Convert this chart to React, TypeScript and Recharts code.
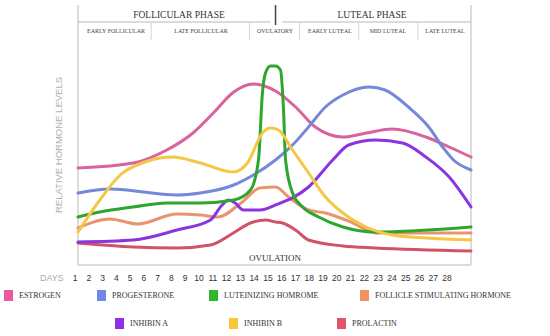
import { LineChart, Line, XAxis, YAxis, ReferenceLine } from "recharts"

type Pt = [number, number]

// [day, relative level]
const estrogen: Pt[] = [
  [1, 97], [4.8, 102], [7.1, 115], [8.9, 132], [10.3, 152], [11.7, 173], [13.05, 181], [14.57, 174],
  [15.95, 158], [17.3, 138], [19.2, 128], [20.8, 132], [22.6, 136], [24.9, 128], [26.5, 118], [28, 108],
]
const progesterone: Pt[] = [
  [1, 72], [3.2, 76], [7.8, 70], [9.4, 72], [11.7, 80], [13.05, 90], [14.57, 105], [15.74, 120],
  [16.84, 138], [18.0, 158], [19.2, 170], [21, 178], [22.1, 175], [23.7, 158], [25.1, 138],
  [26.1, 117], [26.8, 105], [28, 95],
]
const lh: Pt[] = [
  [1, 48], [2.5, 53], [4.8, 58], [7.1, 62], [9.4, 62], [11.7, 65], [12.85, 75], [13.4, 105],
  [13.67, 172], [13.88, 192], [14.22, 199], [14.57, 199], [14.91, 195], [15.12, 155], [15.26, 105],
  [15.74, 72], [16.43, 58], [17.53, 48], [19.2, 38], [21.45, 33], [28, 38],
]
const fsh: Pt[] = [
  [1, 37], [3.2, 46], [5.1, 41], [7.8, 51], [9.4, 50], [10.6, 48], [12.2, 62], [13.5, 77],
  [14.57, 78], [15.46, 68], [16.84, 55], [18.0, 52], [19.9, 42], [21.45, 32], [28, 32],
]
const inhibinA: Pt[] = [
  [1, 23], [4.8, 25], [7.8, 35], [10.1, 45], [10.9, 60], [11.33, 65], [11.8, 62], [12.36, 55],
  [13.5, 55], [14.57, 60], [16.84, 78], [18.5, 105], [19.6, 120], [21.45, 125], [23.3, 122],
  [24.9, 108], [26.5, 88], [28, 58],
]
const inhibinB: Pt[] = [
  [1, 33], [2.5, 65], [3.9, 90], [5.6, 103], [7.5, 108], [9.4, 102], [11.67, 93], [12.64, 102],
  [13.67, 132], [14.22, 137], [14.77, 135], [15.74, 115], [16.84, 92], [18.0, 68], [19.2, 52],
  [20.8, 38], [22.6, 30], [24.9, 27], [28, 25],
]
const prolactin: Pt[] = [
  [1, 22], [4.8, 18], [7.8, 17], [10.1, 20], [11.67, 32], [12.85, 42], [13.88, 45], [14.57, 43],
  [15.05, 42], [15.95, 35], [16.84, 25], [19.2, 19], [21.45, 17], [28, 14],
]

const dayTicks = [1, 2, 3, 4, 5, 6, 7, 8, 9, 10, 11, 12, 13, 14, 15, 16, 17, 18, 19, 20, 21, 22, 23, 24, 25, 26, 27, 28]

const series = [
  { name: "ESTROGEN", data: estrogen, color: "#d9639f" },
  { name: "PROGESTERONE", data: progesterone, color: "#7389d9" },
  { name: "FSH", data: fsh, color: "#e8956e" },
  { name: "PROLACTIN", data: prolactin, color: "#d05468" },
  { name: "INHIBIN A", data: inhibinA, color: "#8a35e0" },
  { name: "LH", data: lh, color: "#2ea52e" },
  { name: "INHIBIN B", data: inhibinB, color: "#f5c744" },
]

const legendRow1 = [
  { label: "ESTROGEN", color: "#e85a9f", x: 4 },
  { label: "PROGESTERONE", color: "#7088e8", x: 97 },
  { label: "LUTEINIZING HOMROME", color: "#2cb82c", x: 209 },
  { label: "FOLLICLE STIMULATING HORMONE", color: "#f29263", x: 360 },
]
const legendRow2 = [
  { label: "INHIBIN A", color: "#9030e8", x: 115 },
  { label: "INHIBIN B", color: "#f8c838", x: 229 },
  { label: "PROLACTIN", color: "#e45468", x: 337 },
]

const subPhases = [
  { label: "EARLY FOLLICULAR", x: 116 },
  { label: "LATE FOLLICULAR", x: 201 },
  { label: "OVULATORY", x: 275 },
  { label: "EARLY LUTEAL", x: 330 },
  { label: "MID LUTEAL", x: 388 },
  { label: "LATE LUTEAL", x: 445 },
]
const subDividers = [6.03, 12.78, 16.22, 20.28, 24.35]

const serif = "'Liberation Serif', serif"
const sans = "'Liberation Sans', Arial, sans-serif"

function DayTick(props: any) {
  const v = props.payload.value
  return (
    <text x={75 + (v - 1) * 13.78} y={281} textAnchor="middle" fontSize={8.5} fontFamily={sans} fill="#333">
      {v}
    </text>
  )
}

function LegendRow({ items, y }: { items: { label: string; color: string; x: number }[]; y: number }) {
  return (
    <>
      {items.map((it) => (
        <div key={it.label} style={{ position: "absolute", left: it.x, top: y, display: "flex", alignItems: "center" }}>
          <div style={{ width: 9, height: 11, background: it.color }} />
          <span style={{ marginLeft: 6, fontFamily: serif, fontSize: 8, color: "#333", whiteSpace: "nowrap" }}>
            {it.label}
          </span>
        </div>
      ))}
    </>
  )
}

export default function App() {
  return (
    <div style={{ position: "absolute", left: 0, top: 0, width: 550, height: 336, background: "#fff" }}>
      <LineChart width={550} height={336} margin={{ top: 5, right: 79, left: 78, bottom: 51 }}>
        <XAxis
          type="number"
          dataKey="day"
          domain={[1, 28]}
          ticks={dayTicks}
          interval={0}
          height={20}
          axisLine={{ stroke: "#dcdcdc", strokeWidth: 2 }}
          tickLine={false}
          tick={DayTick}
          allowDuplicatedCategory={false}
        />
        <YAxis type="number" domain={[0, 260]} hide />
        <ReferenceLine x={1} stroke="#dcdcdc" strokeWidth={2} />
        <ReferenceLine x={28} stroke="#dcdcdc" strokeWidth={2} />
        <ReferenceLine segment={[{ x: 1, y: 243 }, { x: 14.22, y: 243 }]} stroke="#b8b8b8" strokeWidth={1} />
        <ReferenceLine segment={[{ x: 15.05, y: 243 }, { x: 28, y: 243 }]} stroke="#b8b8b8" strokeWidth={1} />
        <ReferenceLine segment={[{ x: 14.57, y: 260 }, { x: 14.57, y: 240 }]} stroke="#444" strokeWidth={1.5} />
        {subDividers.map((d) => (
          <ReferenceLine key={d} segment={[{ x: d, y: 243 }, { x: d, y: 225 }]} stroke="#d6d6d6" strokeWidth={1} />
        ))}
        {series.map((s) => (
          <Line
            key={s.name}
            data={s.data.map(([day, v]) => ({ day, v }))}
            dataKey="v"
            type="monotone"
            stroke={s.color}
            strokeWidth={3}
            strokeLinecap="round"
            dot={false}
            activeDot={false}
            isAnimationActive={false}
          />
        ))}
      </LineChart>
      <svg width={550} height={336} style={{ position: "absolute", left: 0, top: 0, pointerEvents: "none" }}>
        <text x={179} y={17.5} textAnchor="middle" fontFamily={serif} fontSize={9.5} fill="#333">
          FOLLICULAR PHASE
        </text>
        <text x={372} y={17.5} textAnchor="middle" fontFamily={serif} fontSize={9.5} fill="#333">
          LUTEAL PHASE
        </text>
        {subPhases.map((p) => (
          <text key={p.label} x={p.x} y={33} textAnchor="middle" fontFamily={serif} fontSize={6} fill="#444">
            {p.label}
          </text>
        ))}
        <text
          x={58}
          y={145}
          transform="rotate(-90 58 145)"
          textAnchor="middle"
          dominantBaseline="central"
          fontFamily={sans}
          fontSize={9.5}
          fill="#b0b0b0"
        >
          RELATIVE HORMONE LEVELS
        </text>
        <text x={275} y={260.5} textAnchor="middle" fontFamily={serif} fontSize={9} fill="#333">
          OVULATION
        </text>
        <text x={40} y={281} fontFamily={sans} fontSize={9} fill="#aaa">
          DAYS
        </text>
      </svg>
      <LegendRow items={legendRow1} y={290} />
      <LegendRow items={legendRow2} y={318} />
    </div>
  )
}
